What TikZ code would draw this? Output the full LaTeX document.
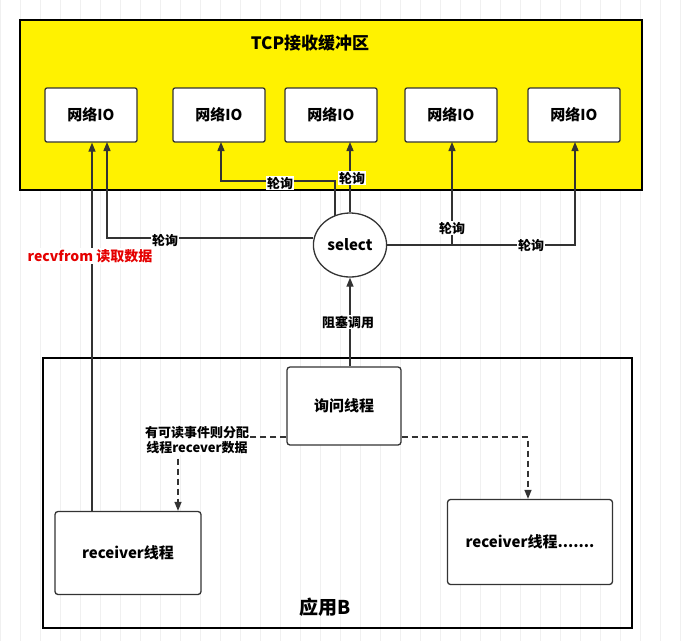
\documentclass[tikz,border=0pt]{standalone}
\usepackage{fontspec}
\setmainfont{Noto Sans CJK SC}
\usetikzlibrary{arrows.meta,positioning,calc,shapes.geometric}
\tikzset{
  >={Triangle[length=9pt,width=7pt]},
  every node/.append style={font=\bfseries\fontsize{15}{18}\selectfont},
  io/.style={draw=black!80, rounded corners=2pt, fill=white, line width=1.3pt, minimum width=92pt, minimum height=54pt},
  thread/.style={draw=black!80, rounded corners=3pt, fill=white, line width=1.3pt, align=center},
  poll/.style={->, line width=1.3pt, draw=black!80},
  dashpoll/.style={->, line width=1.3pt, draw=black!80, dash pattern=on 6pt off 4pt},
  lbl/.style={fill=white, inner sep=1pt, font=\bfseries\fontsize{13}{15}\selectfont}
}
\begin{document}
\begin{tikzpicture}[x=1pt, y=-1pt]
\useasboundingbox (0,0) rectangle (699,641);
% background grid
\draw[black!6, step=20] (0,0) grid (699,641);

% buffer
\draw[fill=yellow, line width=1.5pt] (20,20) rectangle (642,190);
\node[font=\bfseries\fontsize{17}{20}\selectfont] (title) at (310,43) {TCP接收缓冲区};
\node[io] (io1) at (91,115)  {网络IO};
\node[io] (io2) at (219,115) {网络IO};
\node[io] (io3) at (331,115) {网络IO};
\node[io] (io4) at (451,115) {网络IO};
\node[io] (io5) at (574,115) {网络IO};

\node[draw=black!80, fill=white, line width=1.3pt, ellipse, minimum width=70pt, minimum height=64pt] (sel) at (350,245) {select};

% polling
\draw[poll] (sel.west |- 0,238) -- (107,238) -- (107,142);
\node[lbl] at (165,240) {轮询};
\draw[poll] ($(sel.north)+(-15,4)$) |- (221,181) -- (221,142);
\node[lbl] at (280,183) {轮询};
\draw[poll] (sel.north) -- (350,142);
\node[lbl] at (352,178) {轮询};
\draw[poll] (sel.east) -- (575,245) -- (575,142);
\draw[poll] (452,245) -- (452,142);
\node[lbl] at (452,228) {轮询};
\node[lbl] at (531,245) {轮询};

% application
\draw[line width=1.5pt] (43,358) rectangle (632,628);
\node[font=\bfseries\fontsize{19}{22}\selectfont] (app) at (325,607) {应用B};
\node[thread, minimum width=114pt, minimum height=78pt] (ask) at (344,406) {询问线程};
\node[thread, minimum width=146pt, minimum height=83pt] (recv1) at (128,553) {receiver线程};
\node[thread, minimum width=165pt, minimum height=85pt] (recv2) at (530,542) {receiver线程.......};

\draw[poll] (ask.north -| sel.south) -- (sel.south);
\node[lbl] at (348,322) {阻塞调用};
\draw[poll] (recv1.north -| 92,0) -- (io1.south -| 92,0);
\node[text=red!90!black, fill=white, inner sep=1pt, font=\bfseries\fontsize{14}{16}\selectfont] at (90,256) {recvfrom 读取数据};

\draw[dashpoll] (ask.west |- 0,437) -| (recv1.north -| 178,0);
\node[lbl, align=center] at (197,440) {有可读事件则分配\\线程recever数据};
\draw[dashpoll] (ask.east |- 0,437) -| (recv2.north -| 528,0);
\end{tikzpicture}
\end{document}
